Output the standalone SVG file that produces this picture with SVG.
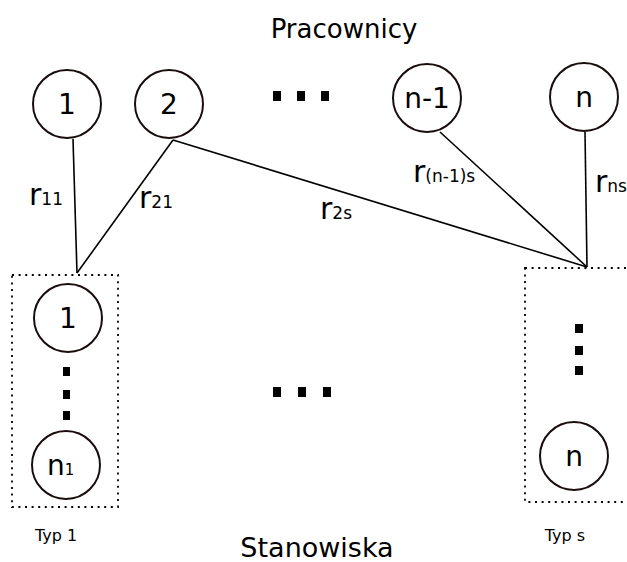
<svg xmlns="http://www.w3.org/2000/svg" width="627" height="562" viewBox="0 0 627 562">
<style>
  .node circle { fill: #fff; stroke: #1a0c0c; stroke-width: 2; }
  .lbl { font-family: "DejaVu Sans", sans-serif; fill: #000; }
  .num { font-size: 28px; text-anchor: middle; }
  .edge { stroke: #000; stroke-width: 1.6; fill: none; }
  .box { fill: none; stroke: #000; stroke-width: 1.8; stroke-dasharray: 2 4.6; }
  .dot { fill: #000; }
  .r { font-size: 30px; }
  .sub { font-size: 17px; }
</style>
<rect width="627" height="562" fill="#fff"/>

<text class="lbl" x="344" y="38" font-size="26" text-anchor="middle">Pracownicy</text>
<text class="lbl" x="317" y="557" font-size="27" text-anchor="middle">Stanowiska</text>
<text class="lbl" x="56" y="541" font-size="16" text-anchor="middle">Typ 1</text>
<text class="lbl" x="565" y="541" font-size="16" text-anchor="middle">Typ s</text>

<g id="box-typ1"><rect class="box" x="12" y="275" width="106" height="232"/></g>
<g id="box-typs"><rect class="box" x="525" y="268" width="120" height="234"/></g>

<g id="connectors">
  <line class="edge" x1="73" y1="139" x2="77" y2="273"/>
  <line class="edge" x1="173" y1="140" x2="77" y2="273"/>
  <line class="edge" x1="173" y1="140" x2="587" y2="267"/>
  <line class="edge" x1="440" y1="132" x2="587" y2="267"/>
  <line class="edge" x1="585" y1="132" x2="587" y2="267"/>
</g>

<g id="edge-labels">
  <text class="lbl r" x="29" y="205">r<tspan class="sub">11</tspan></text>
  <text class="lbl r" x="139" y="208">r<tspan class="sub">21</tspan></text>
  <text class="lbl r" x="320" y="219">r<tspan class="sub">2s</tspan></text>
  <text class="lbl r" x="413" y="182">r<tspan class="sub">(n-1)s</tspan></text>
  <text class="lbl r" x="595" y="192">r<tspan class="sub">ns</tspan></text>
</g>

<g id="w1" class="node"><circle cx="67" cy="104" r="34"/><text class="lbl num" x="67" y="114">1</text></g>
<g id="w2" class="node"><circle cx="169" cy="104" r="34"/><text class="lbl num" x="169" y="114">2</text></g>
<g id="wn1" class="node"><circle cx="427" cy="98" r="34"/><text class="lbl num" x="427" y="108">n-1</text></g>
<g id="wn" class="node"><circle cx="584" cy="97" r="34"/><text class="lbl num" x="584" y="107">n</text></g>

<g id="dots-top">
  <rect class="dot" x="273" y="91" width="8" height="10"/>
  <rect class="dot" x="297" y="91" width="8" height="10"/>
  <rect class="dot" x="321" y="91" width="8" height="10"/>
</g>
<g id="dots-mid">
  <rect class="dot" x="273" y="387" width="8" height="10"/>
  <rect class="dot" x="298" y="387" width="8" height="10"/>
  <rect class="dot" x="323" y="387" width="8" height="10"/>
</g>

<g id="s1" class="node"><circle cx="68" cy="318" r="34"/><text class="lbl num" x="68" y="328">1</text></g>
<g id="dots-typ1">
  <rect class="dot" x="63" y="367" width="7" height="9"/>
  <rect class="dot" x="63" y="390" width="7" height="9"/>
  <rect class="dot" x="63" y="411" width="7" height="9"/>
</g>
<g id="sn1" class="node"><circle cx="66" cy="465" r="34"/><text class="lbl" x="47" y="475" font-size="28">n<tspan font-size="15">1</tspan></text></g>

<g id="dots-typs">
  <rect class="dot" x="575" y="324" width="8" height="9"/>
  <rect class="dot" x="575" y="346" width="8" height="9"/>
  <rect class="dot" x="575" y="366" width="8" height="9"/>
</g>
<g id="sn" class="node"><circle cx="574" cy="456" r="34"/><text class="lbl num" x="574" y="466">n</text></g>
</svg>
